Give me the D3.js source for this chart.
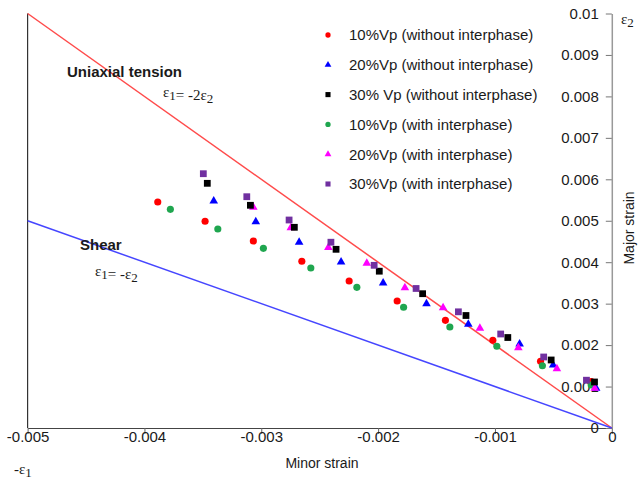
<!DOCTYPE html>
<html><head><meta charset="utf-8">
<script src="https://cdn.jsdelivr.net/npm/d3@7"></script>
<style>
body{margin:0;background:#fff;}
text{font-family:"Liberation Sans",Arial,sans-serif;fill:#1a1a1a;}
.eq{font-family:"Liberation Serif","DejaVu Serif",serif;}
</style>
</head><body><svg id="c" width="639" height="479"></svg>
<script>
const xTicks = [-0.005, -0.004, -0.003, -0.002, -0.001, 0];
const xTickLabels = ["-0.005", "-0.004", "-0.003", "-0.002", "-0.001", "0"];
const yTicks = [0, 0.001, 0.002, 0.003, 0.004, 0.005, 0.006, 0.007, 0.008, 0.009, 0.01];
const yTickLabels = ["0", "0.001", "0.002", "0.003", "0.004", "0.005", "0.006", "0.007", "0.008", "0.009", "0.01"];

const seriesNames = ["10%Vp (without interphase)", "20%Vp (without interphase)", "30% Vp (without interphase)",
                     "10%Vp (with interphase)", "20%Vp (with interphase)", "30%Vp (with interphase)"];

const vp10Without = [[-0.003886,0.005452],[-0.003481,0.004987],[-0.003068,0.004511],[-0.002653,0.004022],[-0.002248,0.003546],
                     [-0.001837,0.003064],[-0.001424,0.002598],[-0.001018,0.002118],[-0.000610,0.001609],[-0.000176,0.001122]];
const vp20Without = [[-0.003407,0.005476],[-0.003047,0.004977],[-0.002676,0.004480],[-0.002317,0.004005],[-0.001957,0.003498],
                     [-0.001586,0.002999],[-0.001228,0.002502],[-0.000789,0.002027],[-0.000502,0.001520],[-0.000134,0.000958]];
const vp30Without = [[-0.003462,0.005903],[-0.003093,0.005373],[-0.002717,0.004842],[-0.002360,0.004311],[-0.001990,0.003783],
                     [-0.001619,0.003240],[-0.001248,0.002714],[-0.000890,0.002183],[-0.000519,0.001641],[-0.000148,0.001110]];
const vp10With = [[-0.003778,0.005276],[-0.003372,0.004801],[-0.002982,0.004335],[-0.002576,0.003860],[-0.002182,0.003394],
                  [-0.001782,0.002912],[-0.001386,0.002437],[-0.000984,0.001971],[-0.000594,0.001501],[-0.000176,0.001037]];
const vp20With = [[-0.003068,0.005325],[-0.002747,0.004832],[-0.002426,0.004355],[-0.002097,0.003976],[-0.001771,0.003385],
                  [-0.001444,0.002902],[-0.001129,0.002405],[-0.000800,0.001935],[-0.000470,0.001428],[-0.000146,0.000958]];
const vp30With = [[-0.003496,0.006135],[-0.003124,0.005580],[-0.002762,0.005018],[-0.002404,0.004482],[-0.002034,0.003925],
                  [-0.001675,0.003366],[-0.001313,0.002803],[-0.000951,0.002268],[-0.000583,0.001713],[-0.000217,0.001153]];

const uniaxialLine = [[-0.005, 0.01], [0, 0]];
const shearLine = [[-0.005, 0.005], [0, 0]];

const series = [
  {name: seriesNames[0], data: vp10Without, color: "#ff0000", shape: "circle"},
  {name: seriesNames[1], data: vp20Without, color: "#0000ff", shape: "triangle"},
  {name: seriesNames[2], data: vp30Without, color: "#000000", shape: "square"},
  {name: seriesNames[3], data: vp10With, color: "#1fa64f", shape: "circle"},
  {name: seriesNames[4], data: vp20With, color: "#ff00ff", shape: "triangle"},
  {name: seriesNames[5], data: vp30With, color: "#7030a0", shape: "square"}
];
// draw order so that overlaps look like the reference
const drawOrder = [0, 3, 1, 4, 2, 5];

const svg = d3.select("#c");
const x = d3.scaleLinear().domain([-0.005, 0]).range([27.6, 611.8]);
const y = d3.scaleLinear().domain([0, 0.01]).range([428, 13.5]);

const symType = {circle: d3.symbolCircle, triangle: d3.symbolTriangle, square: d3.symbolSquare};
const symSize = {circle: 40, triangle: 32, square: 46};
const legSize = {circle: 22, triangle: 20, square: 26};

// frame
svg.append("line").attr("x1", x(-0.005)).attr("x2", x(-0.005)).attr("y1", y(0.01)).attr("y2", y(0))
  .attr("stroke", "#333").attr("stroke-width", 1.2);

// x axis
const xAxis = d3.axisBottom(x).tickValues(xTicks).tickFormat((d, i) => xTickLabels[i]).tickSize(6).tickSizeOuter(0);
const gx = svg.append("g").attr("transform", `translate(0,${y(0)})`).call(xAxis);
gx.select(".domain").attr("stroke", "#444").attr("stroke-width", 1.2);
gx.selectAll(".tick line").attr("stroke", "#666");
gx.selectAll(".tick text").attr("font-size", 15).attr("dy", "0.55em").attr("y", 6).attr("fill", "#1a1a1a")
  .style("font-family", "'Liberation Sans',Arial,sans-serif");

// y axis on right, ticks inward
const yAxis = d3.axisLeft(y).tickValues(yTicks).tickFormat((d, i) => yTickLabels[i]).tickSize(6).tickSizeOuter(0).tickPadding(7);
const gy = svg.append("g").attr("transform", `translate(${x(0)},0)`).call(yAxis);
gy.select(".domain").attr("stroke", "#999").attr("stroke-width", 1.5);
gy.selectAll(".tick line").attr("stroke", "#777");
gy.selectAll(".tick text").attr("font-size", 15).attr("fill", "#1a1a1a")
  .style("font-family", "'Liberation Sans',Arial,sans-serif");

// reference lines
const lineGen = d3.line().x(d => x(d[0])).y(d => y(d[1]));
svg.append("path").attr("d", lineGen(uniaxialLine)).attr("stroke", "#ff4b4b").attr("stroke-width", 1.5).attr("fill", "none");
svg.append("path").attr("d", lineGen(shearLine)).attr("stroke", "#4646ff").attr("stroke-width", 1.5).attr("fill", "none");

// points
drawOrder.forEach(i => {
  const s = series[i];
  svg.append("g").selectAll("path").data(s.data).join("path")
    .attr("transform", d => `translate(${x(d[0])},${y(d[1])})`)
    .attr("d", d3.symbol().type(symType[s.shape]).size(symSize[s.shape]))
    .attr("fill", s.color);
});

// legend
const legX = 328, legY0 = 35, legDy = 29.8;
const leg = svg.append("g");
series.forEach((s, i) => {
  const yy = legY0 + i * legDy;
  leg.append("path").attr("transform", `translate(${legX},${yy})`)
    .attr("d", d3.symbol().type(symType[s.shape]).size(legSize[s.shape])).attr("fill", s.color);
  leg.append("text").attr("x", 349).attr("y", yy).attr("dy", "0.36em").attr("font-size", 15).text(s.name);
});

// annotations
svg.append("text").attr("x", 67).attr("y", 77).attr("font-size", 15).attr("font-weight", "bold").text("Uniaxial tension");
svg.append("text").attr("x", 80).attr("y", 250).attr("font-size", 15).attr("font-weight", "bold").text("Shear");

function eq(xp, yp, parts) {
  const t = svg.append("text").attr("class", "eq").attr("x", xp).attr("y", yp).attr("font-size", 15);
  parts.forEach(p => {
    if (p.sub) {
      t.append("tspan").attr("dy", 3).attr("font-size", 13).text(p.t);
      t.append("tspan").attr("dy", -3).text("");
    } else {
      t.append("tspan").text(p.t);
    }
  });
  return t;
}
eq(163, 97, [{t: "ε"}, {t: "1", sub: true}, {t: "= -2"}, {t: "ε"}, {t: "2", sub: true}]);
eq(95, 276, [{t: "ε"}, {t: "1", sub: true}, {t: "= -"}, {t: "ε"}, {t: "2", sub: true}]);
eq(14, 474, [{t: "-ε"}, {t: "1", sub: true}]);
eq(621, 24, [{t: "ε"}, {t: "2", sub: true}]);

// axis titles
svg.append("text").attr("x", 322).attr("y", 468).attr("text-anchor", "middle").attr("font-size", 14).text("Minor strain");
svg.append("text").attr("transform", "translate(634,228) rotate(-90)").attr("text-anchor", "middle")
  .attr("font-size", 14).text("Major strain");
</script>
</body></html>
